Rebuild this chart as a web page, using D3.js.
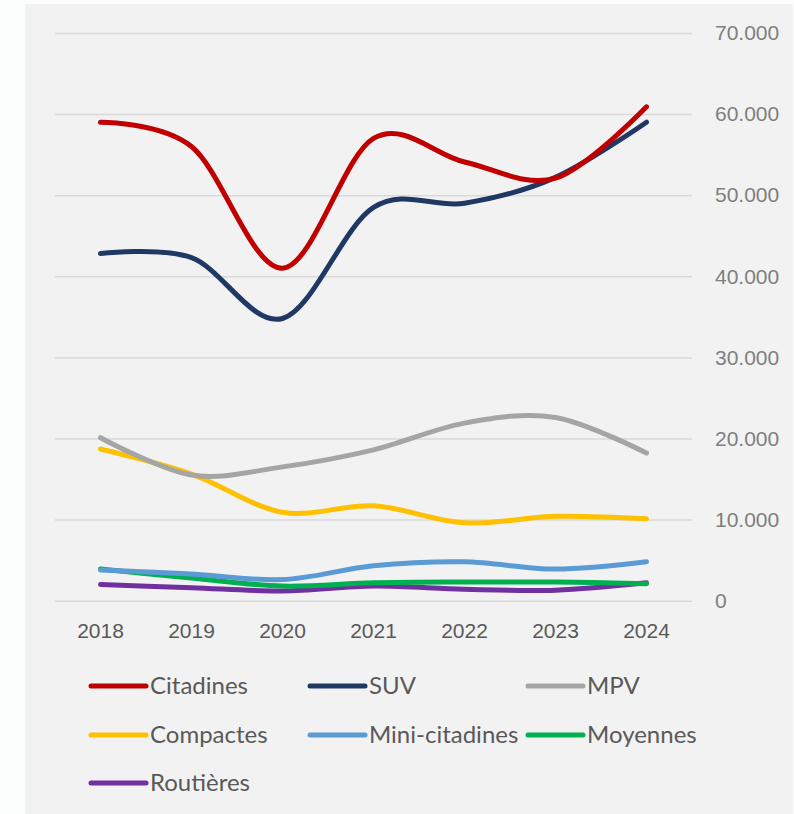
<!DOCTYPE html>
<html>
<head>
<meta charset="utf-8">
<script src="https://cdn.jsdelivr.net/npm/d3@7"></script>
<style>
  body { margin: 0; background: #fcfdfd; }
  svg { display: block; }
</style>
</head>
<body>
<div id="chart"></div>
<script>
// data
var years = ["2018", "2019", "2020", "2021", "2022", "2023", "2024"];
var citadines = [59000, 56000, 41000, 57000, 54100, 52100, 60900];
var suv = [42800, 42300, 34800, 48500, 49000, 52200, 59000];
var mpv = [20100, 15500, 16500, 18600, 21900, 22600, 18200];
var compactes = [18700, 15600, 10900, 11700, 9600, 10400, 10100];
var miniCitadines = [3800, 3300, 2600, 4300, 4800, 3900, 4800];
var moyennes = [3900, 2800, 1800, 2200, 2300, 2300, 2100];
var routieres = [2000, 1600, 1200, 1800, 1400, 1300, 2200];
var yTicks = [0, 10000, 20000, 30000, 40000, 50000, 60000, 70000];

var series = [
    {name: "Citadines", values: citadines, color: "#c00000"},
    {name: "SUV", values: suv, color: "#203864"},
    {name: "MPV", values: mpv, color: "#a5a5a5"},
    {name: "Compactes", values: compactes, color: "#ffc000"},
    {name: "Mini-citadines", values: miniCitadines, color: "#5b9bd5"},
    {name: "Moyennes", values: moyennes, color: "#00b050"},
    {name: "Routières", values: routieres, color: "#7030a0"}
];

var svgWidth = 794;
var svgHeight = 814;

var svg = d3.select("#chart")
    .append("svg")
    .attr("width", svgWidth)
    .attr("height", svgHeight)
    .style("font-family", "Lato, 'Open Sans', sans-serif");

// grey panel
svg.append("rect")
    .attr("x", 25)
    .attr("y", 4)
    .attr("width", 768)
    .attr("height", 810)
    .attr("fill", "#f2f2f2");

var plot = {left: 55, right: 692, top: 33, bottom: 600.7};

var x = d3.scaleBand()
    .domain(years)
    .range([plot.left, plot.right]);

var y = d3.scaleLinear()
    .domain([0, 70000])
    .range([plot.bottom, plot.top]);

// gridlines + y labels on the right
var yAxis = d3.axisRight(y)
    .tickValues(yTicks)
    .tickSize(plot.right - plot.left)
    .tickPadding(23)
    .tickFormat(d => d3.format(",")(d).replace(/,/g, "."));

svg.append("g")
    .attr("transform", `translate(${plot.left},0)`)
    .call(yAxis)
    .call(g => g.select(".domain").remove())
    .call(g => g.selectAll("line").attr("stroke", "#d9d9d9").attr("stroke-width", 1.5))
    .call(g => g.selectAll("text")
        .attr("fill", "#7f7f7f")
        .attr("font-size", 21));

// x labels
var xAxis = d3.axisBottom(x).tickSize(0).tickPadding(22);
svg.append("g")
    .attr("transform", `translate(0,${plot.bottom})`)
    .call(xAxis)
    .call(g => g.select(".domain").remove())
    .call(g => g.selectAll("text")
        .attr("fill", "#595959")
        .attr("font-size", 21));

var line = d3.line()
    .x((d, i) => x(years[i]) + x.bandwidth() / 2)
    .y(d => y(d))
    .curve(d3.curveCardinal.tension(0));

// draw back to front so Citadines sits on top
svg.append("g")
    .selectAll("path")
    .data(series.slice().reverse())
    .enter()
    .append("path")
    .attr("d", d => line(d.values))
    .attr("fill", "none")
    .attr("stroke", d => d.color)
    .attr("stroke-width", 5)
    .attr("stroke-linecap", "round")
    .attr("stroke-linejoin", "round");

// legend, 3 columns
var colX = [91, 310, 528];
var rowY = [686, 735, 783];

var legend = svg.append("g")
    .selectAll("g")
    .data(series)
    .enter()
    .append("g")
    .attr("transform", (d, i) => `translate(${colX[i % 3]},${rowY[Math.floor(i / 3)]})`);

legend.append("line")
    .attr("x1", 0)
    .attr("x2", 55)
    .attr("stroke", d => d.color)
    .attr("stroke-width", 5)
    .attr("stroke-linecap", "round");

legend.append("text")
    .attr("x", 59)
    .attr("dy", "0.35em")
    .attr("fill", "#595959")
    .attr("font-size", 24)
    .text(d => d.name);
</script>
</body>
</html>
